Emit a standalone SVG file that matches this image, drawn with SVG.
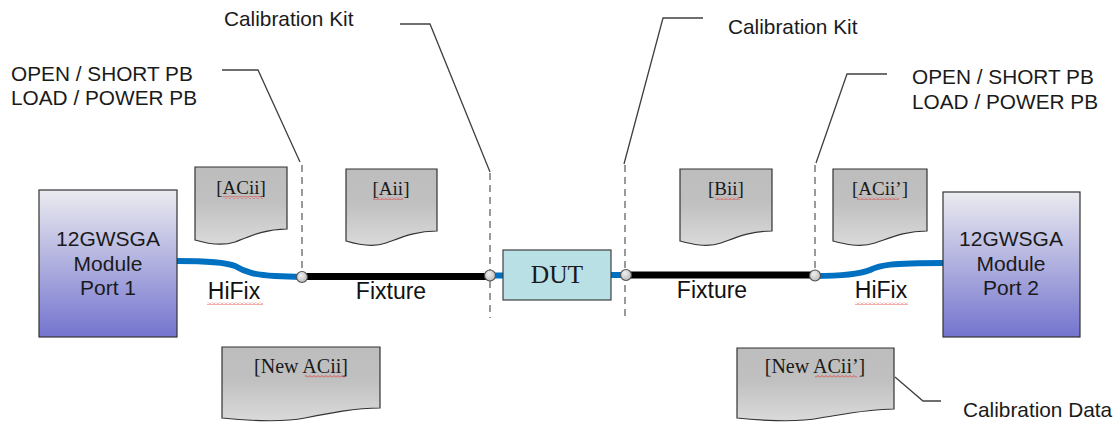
<svg xmlns="http://www.w3.org/2000/svg" width="1115" height="424" viewBox="0 0 1115 424">
<defs>
<style>
.lbl{font-family:"Liberation Sans",Arial,sans-serif;font-size:20.8px;fill:#1a1a1a}
.big{font-family:"Liberation Sans",Arial,sans-serif;font-size:23px;fill:#111;text-anchor:middle}
.mod{font-family:"Liberation Sans",Arial,sans-serif;font-size:21px;fill:#1a1a1a;text-anchor:middle}
.doct{font-family:"Liberation Serif","Times New Roman",serif;font-size:19px;fill:#1a1a1a;text-anchor:middle}
.doc{fill:url(#docg);stroke:#333;stroke-width:1.2}
.modbox{fill:url(#modg);stroke:#333;stroke-width:1.2}
.dash{stroke:#808080;stroke-width:1.6;stroke-dasharray:7,5;fill:none}
.lead{stroke:#404040;stroke-width:1.3;fill:none}
.cable{stroke:#0070c0;stroke-width:6;fill:none}
.fix{stroke:#000;stroke-width:7;fill:none}
.pt{fill:url(#ptg);stroke:#505050;stroke-width:1.2}
</style>
<linearGradient id="modg" x1="0" y1="0" x2="0" y2="1">
<stop offset="0" stop-color="#ebebf0"/>
<stop offset="1" stop-color="#7474cf"/>
</linearGradient>
<linearGradient id="docg" x1="0" y1="0" x2="0" y2="1">
<stop offset="0" stop-color="#bdbdbd"/>
<stop offset="0.45" stop-color="#c0c0c0"/>
<stop offset="1" stop-color="#dadada"/>
</linearGradient>
<radialGradient id="ptg" cx="0.4" cy="0.35" r="0.7">
<stop offset="0" stop-color="#f0f0f0"/>
<stop offset="1" stop-color="#b8b8b8"/>
</radialGradient>
<pattern id="sq" width="4" height="3" patternUnits="userSpaceOnUse">
<path d="M0,2.5 L2,0.5 L4,2.5" stroke="#e03030" stroke-width="0.8" fill="none"/>
</pattern>
</defs>

<g id="connectors">
<path class="dash" d="M302,165 V277"/>
<path class="dash" d="M490,173 V318"/>
<path class="dash" d="M625,165 V318"/>
<path class="dash" d="M815,165 V276"/>
<path class="lead" d="M222,70 H258 L300,162"/>
<path class="lead" d="M400,24 H430 L490,172"/>
<path class="lead" d="M703,18 H663 L624,164"/>
<path class="lead" d="M887,74 H847 L816,163"/>
<path class="lead" d="M895,377 L923,401 H941"/>
<path class="cable" d="M177,261 C205,261 225,262 235,266 C245,272 255,275 275,276 L302,277"/>
<path class="cable" d="M815,276 C840,276 860,274 870,270 C880,265 890,263 943,263"/>
<path class="cable" d="M490,275.5 H504"/>
<path class="cable" d="M611,275 H626"/>
<path class="fix" d="M302,276.5 H490"/>
<path class="fix" d="M626,275 H815"/>
<circle class="pt" cx="302" cy="277" r="5.5"/>
<circle class="pt" cx="490" cy="275.5" r="5.5"/>
<circle class="pt" cx="626" cy="275" r="5.5"/>
<circle class="pt" cx="815" cy="275.5" r="5.5"/>
</g>

<g id="port1">
<rect class="modbox" x="39" y="190" width="138" height="147"/>
<text class="mod" x="108" y="246">12GWSGA</text>
<text class="mod" x="108" y="271">Module</text>
<text class="mod" x="108" y="295">Port 1</text>
</g>
<g id="port2">
<rect class="modbox" x="943" y="192" width="137" height="145"/>
<text class="mod" x="1011" y="246">12GWSGA</text>
<text class="mod" x="1011" y="271">Module</text>
<text class="mod" x="1011" y="295">Port 2</text>
</g>
<g id="dut">
<rect x="503" y="250" width="108" height="50" fill="#b9e0e5" stroke="#404040" stroke-width="1.2"/>
<text class="doct" x="557" y="283" style="font-size:25.5px">DUT</text>
</g>

<g id="doc-acii">
<path class="doc" d="M195,167 H287 V229 C265,229 250,236 235,242 C220,247 205,243 195,240 Z"/>
<text class="doct" x="241" y="194">[ACii]</text>
<rect x="223" y="196" width="40" height="3" fill="url(#sq)"/>
</g>
<g id="doc-aii">
<path class="doc" d="M346,169 H437 V231 C415,231 400,238 386,243 C372,248 356,244 346,241 Z"/>
<text class="doct" x="391" y="195">[Aii]</text>
<rect x="373" y="197" width="30" height="3" fill="url(#sq)"/>
</g>
<g id="doc-bii">
<path class="doc" d="M680,169 H772 V231 C750,231 735,238 721,243 C707,248 691,244 680,241 Z"/>
<text class="doct" x="726" y="195">[Bii]</text>
<rect x="715" y="197" width="25" height="3" fill="url(#sq)"/>
</g>
<g id="doc-acii2">
<path class="doc" d="M833,169 H927 V231 C905,231 890,238 875,243 C860,248 844,244 833,241 Z"/>
<text class="doct" x="880" y="195">[ACii’]</text>
<rect x="857" y="197" width="42" height="3" fill="url(#sq)"/>
</g>
<g id="doc-newacii">
<path class="doc" d="M222,347 H380 V408 C355,408 330,413 305,418 C280,423 240,420 222,418 Z"/>
<text class="doct" x="301" y="373" style="font-size:20px">[New ACii]</text>
<rect x="305" y="375" width="40" height="3" fill="url(#sq)"/>
</g>
<g id="doc-newacii2">
<path class="doc" d="M737,348 H894 V409 C869,409 845,414 820,418 C795,423 755,420 737,418 Z"/>
<text class="doct" x="815" y="373" style="font-size:20px">[New ACii’]</text>
<rect x="815" y="375" width="42" height="3" fill="url(#sq)"/>
</g>

<g id="labels">
<text class="lbl" x="11" y="81">OPEN / SHORT PB</text>
<text class="lbl" x="11" y="105">LOAD / POWER PB</text>
<text class="lbl" x="224" y="26">Calibration Kit</text>
<text class="lbl" x="728" y="34">Calibration Kit</text>
<text class="lbl" x="912" y="84">OPEN / SHORT PB</text>
<text class="lbl" x="912" y="109">LOAD / POWER PB</text>
<text class="lbl" x="963" y="417">Calibration Data</text>
<text class="big" x="234" y="299">HiFix</text>
<rect x="207" y="302" width="56" height="3" fill="url(#sq)"/>
<text class="big" x="391" y="299">Fixture</text>
<text class="big" x="712" y="298">Fixture</text>
<text class="big" x="881" y="298">HiFix</text>
<rect x="855" y="302" width="53" height="3" fill="url(#sq)"/>
</g>
</svg>
